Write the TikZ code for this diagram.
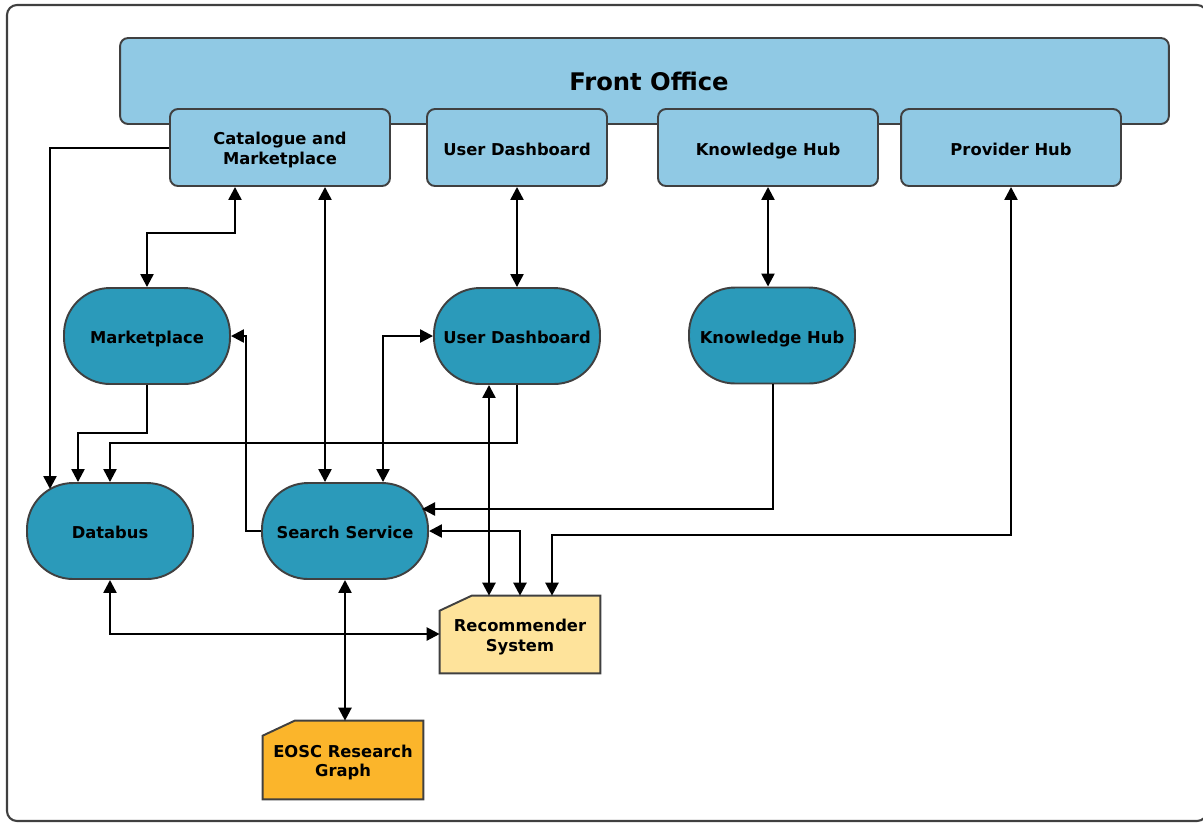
\documentclass[tikz,border=0pt]{standalone}
\usepackage{fontspec}
\setmainfont{DejaVu Sans}
\usetikzlibrary{arrows.meta,calc,backgrounds}
\definecolor{frontblue}{HTML}{90C9E4}
\definecolor{svcteal}{HTML}{2B9ABA}
\definecolor{recyellow}{HTML}{FEE39B}
\definecolor{graphorange}{HTML}{FBB52B}
\definecolor{edgegray}{HTML}{404040}

\begin{document}
\begin{tikzpicture}[x=0.02cm,y=-0.02cm,
  lbl/.style={font=\fontsize{9.3}{11.2}\selectfont\bfseries, align=center, text=black},
  oneline/.style={text height=8.6pt, text depth=0pt},
  twoline/.style={label={[lbl, yshift=-0.05cm]center:{#1}}},
  fobox/.style={lbl, draw=edgegray, line width=1.1pt, fill=frontblue, rounded corners=0.16cm,
    minimum width=4.4cm, minimum height=1.54cm, inner sep=0pt},
  svc/.style={lbl, oneline, draw=edgegray, line width=1.1pt, fill=svcteal, rounded corners=0.92cm,
    minimum width=3.32cm, minimum height=1.92cm, inner sep=0pt},
  card/.style={lbl, minimum width=3.2cm, minimum height=1.54cm, inner sep=0pt},
  cardshape/.style={draw=edgegray, line width=1.1pt},
  tip/.tip={Triangle[length=0.26cm,width=0.26cm]},
  link/.style={line width=1.35pt, black, -tip},
  bilink/.style={line width=1.35pt, black, tip-tip},
]
\useasboundingbox (0,0) rectangle (1203,823);

% outer frame
\draw[edgegray, line width=1.2pt, rounded corners=0.2cm] (7,5) rectangle (1207,821);

% front office with its four portals
\node[fobox, minimum width=20.98cm, minimum height=1.72cm] (fo) at (644.5,81) {};
\node[lbl, font=\fontsize{13.8}{16}\selectfont\bfseries, text height=10pt, text depth=0pt]
  (fotitle) at (649,82) {Front Office};
\node[fobox, twoline={Catalogue and\\Marketplace}] (catf) at (280,147.5) {};
\node[fobox, oneline, minimum width=3.6cm] (udf) at (517,147.5) {User Dashboard};
\node[fobox, oneline, minimum width=4.4cm] (khf) at (768,147.5) {Knowledge Hub};
\node[fobox, oneline] (phf) at (1011,147.5) {Provider Hub};

% services
\node[svc] (mkt) at (147,336) {Marketplace};
\node[svc] (uds) at (517,336) {User Dashboard};
\node[svc] (khs) at (772,335.5) {Knowledge Hub};
\node[svc] (db) at (110,531) {Databus};
\node[svc] (ss) at (345,531) {Search Service};

% data sources (cut-corner cards)
\node[card, twoline={Recommender\\System}] (rec) at (520,634.5) {};
\node[card, minimum height=1.56cm, twoline={EOSC Research\\Graph}] (eosc) at (343,760) {};
\begin{scope}[on background layer]
  \path[cardshape, fill=recyellow] (rec.south west) -- ($(rec.north west)+(0,15)$)
    -- ($(rec.north west)+(32,0)$) -- (rec.north east) -- (rec.south east) -- cycle;
  \path[cardshape, fill=graphorange] (eosc.south west) -- ($(eosc.north west)+(0,15)$)
    -- ($(eosc.north west)+(32,0)$) -- (eosc.north east) -- (eosc.south east) -- cycle;
\end{scope}

% routing points
\coordinate (dbin) at (50,489);
\coordinate (c1) at (235,233);
\coordinate (x325) at (325,0);
\coordinate (r3) at (552,535);
\coordinate (k1) at (773,509);
\coordinate (ssin) at (422,509);
\coordinate (x489) at (489,0);
\coordinate (u1) at (0,443);
\coordinate (m1) at (78,433);
\coordinate (s1) at (383,336);
\coordinate (s2) at (246,336);
\coordinate (y634) at (0,634);

% connectors
\draw[link] (catf.west |- 0,148) -| (dbin);
\draw[bilink] (catf.south -| c1) -- (c1) -| (mkt.north);
\draw[bilink] (catf.south -| x325) -- (ss.north -| x325);
\draw[bilink] (udf.south) -- (uds.north);
\draw[bilink] (khf.south) -- (khs.north -| khf.south);
\draw[bilink] (rec.north -| r3) -- (r3) -| (phf.south);
\draw[link] (khs.south -| k1) |- (ssin);
\draw[bilink] (ss.east) -| (rec.north);
\draw[bilink] (uds.south -| x489) -- (rec.north -| x489);
\draw[link] (uds.south) |- (db.north |- u1) -- (db.north);
\draw[link] (mkt.south) |- (m1) -- (m1 |- db.north);
\draw[bilink] (ss.north -| s1) -- (s1) -- (uds.west);
\draw[link] (ss.west) -| (s2) -- (mkt.east);
\draw[bilink] (db.south) |- (rec.west |- y634);
\draw[bilink] (ss.south) -- (ss.south |- eosc.north);
\end{tikzpicture}
\end{document}
